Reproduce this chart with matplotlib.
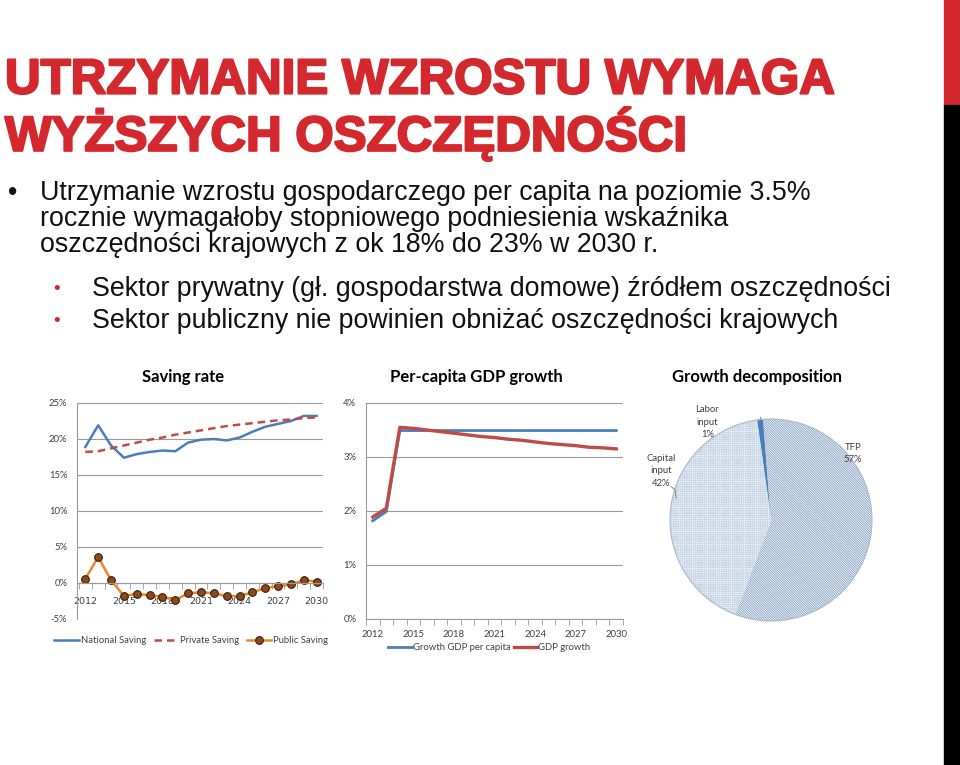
import numpy as np
import matplotlib.pyplot as plt
import matplotlib.patheffects as pe
from matplotlib.patches import Rectangle, Circle

# Data
years = list(range(2012, 2031))
national_saving = [18.9, 21.9, 19.1, 17.4, 17.9, 18.2, 18.4, 18.3, 19.5, 19.9,
                   20.0, 19.8, 20.2, 21.0, 21.7, 22.1, 22.5, 23.2, 23.2]
private_saving = [18.2, 18.3, 18.7, 19.1, 19.5, 19.9, 20.2, 20.6, 20.9, 21.2,
                  21.5, 21.8, 22.0, 22.2, 22.4, 22.6, 22.7, 22.9, 23.0]
public_saving = [0.6, 3.6, 0.4, -1.8, -1.5, -1.7, -1.9, -2.4, -1.4, -1.3,
                 -1.4, -1.85, -1.8, -1.3, -0.7, -0.45, -0.2, 0.4, 0.2]

gdp_per_capita = [1.82, 1.99, 3.49, 3.49, 3.49, 3.49, 3.49, 3.49, 3.49, 3.49,
                  3.49, 3.49, 3.49, 3.49, 3.49, 3.49, 3.49, 3.49, 3.49]
gdp_growth = [1.89, 2.05, 3.55, 3.53, 3.50, 3.47, 3.44, 3.41, 3.38, 3.36,
              3.33, 3.31, 3.28, 3.25, 3.23, 3.21, 3.18, 3.17, 3.15]

pie_labels = ['Labor\ninput\n1%', 'TFP\n57%', 'Capital\ninput\n42%']
pie_shares = [1, 57, 42]

year_ticks = [2012, 2015, 2018, 2021, 2024, 2027, 2030]

RED = '#d4282f'
BLUE = '#4a7ebb'
DRED = '#be4b48'
ORANGE = '#e8882a'
GRID = '#9a9a9a'
TXT = '#404040'
FS = 6.8

W, H = 960, 765
fig = plt.figure(figsize=(W / 100, H / 100), dpi=100)
fig.patch.set_facecolor('white')


def px_axes(x0, y0, x1, y1):
    # axes from pixel box (top-left origin)
    return fig.add_axes([x0 / W, 1 - y1 / H, (x1 - x0) / W, (y1 - y0) / H])


def fx(x):
    return x / W


def fy(y):
    return 1 - y / H


# right edge bar
fig.add_artist(Rectangle((fx(944), fy(105)), fx(16), 105 / H, color=RED, transform=fig.transFigure))
fig.add_artist(Rectangle((fx(944), 0), fx(16), fy(105), color='black', transform=fig.transFigure))

# heading
for i, line in enumerate(['UTRZYMANIE WZROSTU WYMAGA', 'WYŻSZYCH OSZCZĘDNOŚCI']):
    fig.text(fx(5), fy(81 + 53 * i), line, color=RED, fontsize=35.5, fontweight='bold',
             family='Liberation Sans', va='center', ha='left',
             path_effects=[pe.withStroke(linewidth=1.6, foreground=RED)])

# bullets
BF = 19.3
body = ['Utrzymanie wzrostu gospodarczego per capita na poziomie 3.5%',
        'rocznie wymagałoby stopniowego podniesienia wskaźnika',
        'oszczędności krajowych z ok 18% do 23% w 2030 r.']
fig.text(fx(8), fy(193), '•', fontsize=BF, family='Liberation Sans', va='center', color='#111111')
for i, line in enumerate(body):
    fig.text(fx(40), fy(193 + 26 * i), line, fontsize=BF, family='Liberation Sans',
             va='center', ha='left', color='#111111')

sub = ['Sektor prywatny (gł. gospodarstwa domowe) źródłem oszczędności',
       'Sektor publiczny nie powinien obniżać oszczędności krajowych']
for i, line in enumerate(sub):
    fig.text(fx(53), fy(289 + 32 * i), '•', fontsize=14, family='Liberation Sans',
             va='center', color=RED)
    fig.text(fx(92), fy(289 + 32 * i), line, fontsize=BF, family='Liberation Sans',
             va='center', ha='left', color='#111111')

CF = 'Lato'


def style_axes(ax):
    for s in ['top', 'right']:
        ax.spines[s].set_visible(False)
    ax.spines['left'].set_color(GRID)
    ax.spines['bottom'].set_color(GRID)
    ax.yaxis.grid(True, color=GRID, linewidth=0.8)
    ax.set_axisbelow(True)
    ax.tick_params(axis='y', length=0, labelsize=FS, labelcolor=TXT, pad=7)
    ax.set_xticks(year_ticks)
    ax.set_xticks(np.arange(2011.5, 2031, 1), minor=True)
    ax.tick_params(axis='x', which='major', length=0, labelsize=FS, labelcolor=TXT)
    ax.tick_params(axis='x', which='minor', length=4, color=GRID)
    for lab in ax.get_xticklabels() + ax.get_yticklabels():
        lab.set_family(CF)


# ---- Saving rate
ax1 = px_axes(77, 403, 323, 619)
ax1.plot(years, national_saving, color=BLUE, lw=1.8, label='National Saving')
ax1.plot(years, private_saving, color=DRED, lw=1.8, ls=(0, (3, 2)), label='Private Saving')
ax1.plot(years, public_saving, color=ORANGE, lw=1.8, marker='o', ms=5.5,
         mfc='#8a4a1c', mec='#3a1c08', mew=0.8, label='Public Saving')
ax1.set_ylim(-5, 25)
ax1.set_xlim(2011.35, 2030.5)
ax1.set_yticks(range(-5, 26, 5))
ax1.set_yticklabels([f'{v}%' for v in range(-5, 26, 5)])
style_axes(ax1)
ax1.spines['bottom'].set_position(('data', 0))
ax1.tick_params(axis='x', which='major', pad=10)
ax1.text(0.43, 1.12, 'Saving rate', transform=ax1.transAxes, ha='center', va='center',
         fontsize=12, fontweight='bold', family=CF)
ax1.legend(loc='center', bbox_to_anchor=(0.465, -0.1), ncol=3, frameon=False,
           prop={'family': CF, 'size': FS}, handlelength=2.6, columnspacing=0.8,
           handletextpad=0.2, labelcolor=TXT)

# ---- Per-capita GDP growth
ax2 = px_axes(366, 403, 623, 619)
ax2.plot(years, gdp_per_capita, color=BLUE, lw=2, label='Growth GDP per capita')
ax2.plot(years, gdp_growth, color=DRED, lw=2.4, label='GDP growth')
ax2.set_ylim(0, 4)
ax2.set_xlim(2011.5, 2030.5)
ax2.set_yticks(range(0, 5))
ax2.set_yticklabels([f'{v}%' for v in range(0, 5)])
style_axes(ax2)
ax2.tick_params(axis='x', which='major', pad=8)
ax2.text(0.43, 1.12, 'Per-capita GDP growth', transform=ax2.transAxes, ha='center',
         va='center', fontsize=12, fontweight='bold', family=CF)
ax2.legend(loc='center', bbox_to_anchor=(0.48, -0.134), ncol=2, frameon=False,
           prop={'family': CF, 'size': FS}, handlelength=2.5, columnspacing=0.3,
           handletextpad=0.1, labelcolor=TXT)

# ---- Growth decomposition
plt.rcParams['hatch.linewidth'] = 0.6
ax3 = px_axes(668, 417, 874, 623)
wedges, _ = ax3.pie(pie_shares, startangle=98, counterclock=False, radius=1,
                    colors=['#4a7ebb', 'white', 'white'],
                    wedgeprops=dict(linewidth=0))
wedges[0].set_edgecolor('#8eaacb')
wedges[0].set_linewidth(0.6)
wedges[1].set_edgecolor('#7898c0')
wedges[1].set_hatch('\\' * 14)
wedges[2].set_edgecolor('#c9d6e5')
wedges[2].set_hatch('+' * 9)
ax3.add_patch(Circle((0, 0), 1, fill=False, edgecolor='#aeb8c6', lw=0.8))
ax3.set_xlim(-1.02, 1.02)
ax3.set_ylim(-1.02, 1.02)
ax3.set_aspect('equal')
ax3.axis('off')
ax3.text(-0.14, 1.42, 'Growth decomposition', ha='center', va='center', fontsize=12,
         fontweight='bold', family=CF)
ax3.text(-0.63, 0.97, pie_labels[0], ha='center', va='center', fontsize=FS,
         family=CF, color=TXT, linespacing=1.5)
ax3.plot([-0.47, -0.12, -0.1], [1.1, 1.08, 1.0], color='#707070', lw=0.6)
ax3.text(0.81, 0.66, pie_labels[1], ha='center', va='center', fontsize=FS,
         family=CF, color=TXT, linespacing=1.5)
ax3.text(-1.09, 0.49, pie_labels[2], ha='center', va='center', fontsize=FS,
         family=CF, color=TXT, linespacing=1.5)
ax3.plot([-0.99, -0.95, -0.94], [0.33, 0.3, 0.22], color='#707070', lw=0.6)

fig.savefig('out.png', dpi=100)
